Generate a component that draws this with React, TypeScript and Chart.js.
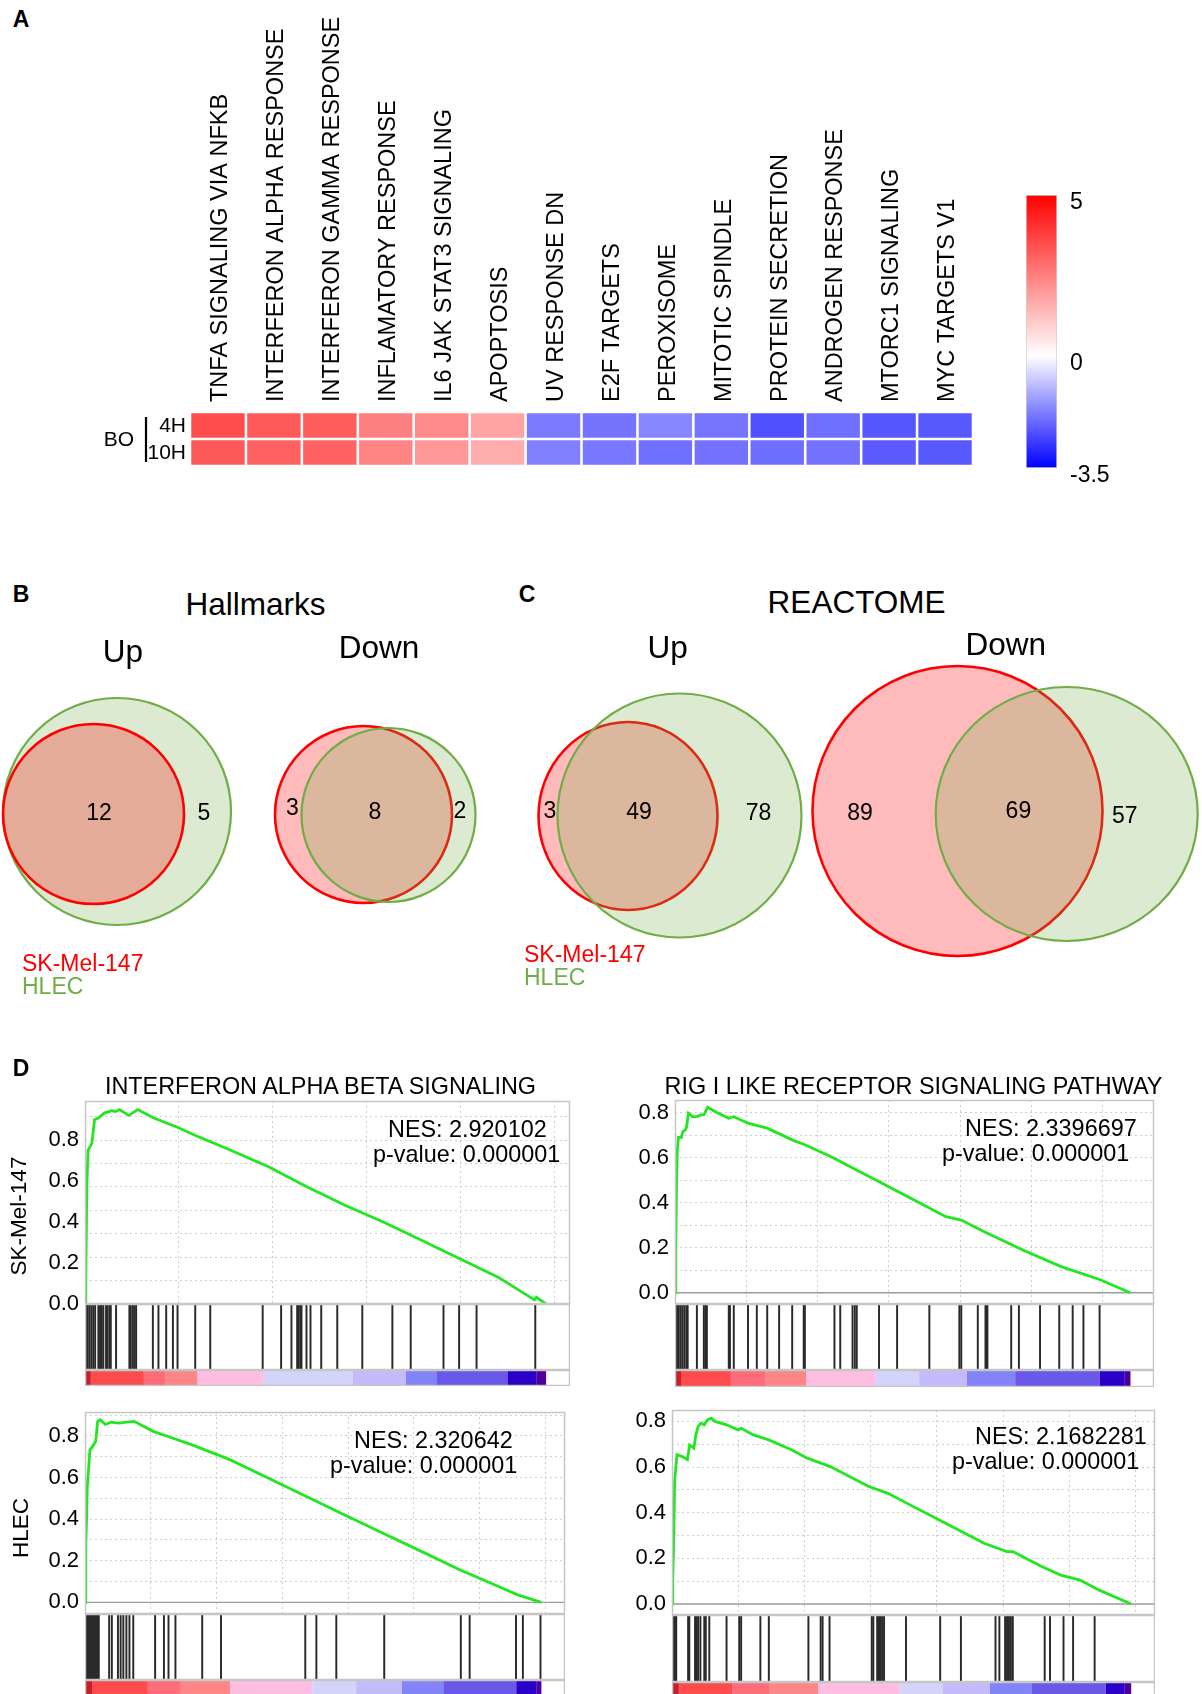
import React, { useEffect, useRef } from "react";
import { Chart, registerables } from "chart.js";

Chart.register(...registerables);

const FONT = "'Liberation Sans', Arial, Helvetica, sans-serif";

// ================= Panel A : heat map of NES =================
const hallmarkSets = [
  "TNFA SIGNALING VIA NFKB",
  "INTERFERON ALPHA RESPONSE",
  "INTERFERON GAMMA RESPONSE",
  "INFLAMATORY RESPONSE",
  "IL6 JAK STAT3 SIGNALING",
  "APOPTOSIS",
  "UV RESPONSE DN",
  "E2F TARGETS",
  "PEROXISOME",
  "MITOTIC SPINDLE",
  "PROTEIN SECRETION",
  "ANDROGEN RESPONSE",
  "MTORC1 SIGNALING",
  "MYC TARGETS V1",
];
const treatment = "BO";
const timepoints = ["4H", "10H"];
const nes4H = [3.49, 3.24, 3.2, 2.49, 2.29, 1.8, -1.81, -1.91, -1.65, -1.89, -2.4, -1.96, -2.32, -2.29];
const nes10H = [3.27, 3.12, 3.08, 2.39, 2.0, 1.6, -1.74, -1.87, -1.96, -1.94, -1.99, -1.94, -2.26, -2.29];
const colorScaleMin = -3.5;
const colorScaleMax = 5;
const colorScaleTicks = [5, 0, -3.5];

// ================= Panels B & C : Venn counts =================
const vennSetNames = ["SK-Mel-147", "HLEC"];
const vennGroups = ["Hallmarks Up", "Hallmarks Down", "REACTOME Up", "REACTOME Down"];
const skMelOnly = [0, 3, 3, 89];
const sharedSets = [12, 8, 49, 69];
const hlecOnly = [5, 2, 78, 57];

// ================= Panel D : GSEA enrichment plots =================
const gseaSets = [
  "INTERFERON ALPHA BETA SIGNALING",
  "RIG I LIKE RECEPTOR SIGNALING PATHWAY",
  "INTERFERON ALPHA BETA SIGNALING",
  "RIG I LIKE RECEPTOR SIGNALING PATHWAY",
];
const gseaCellLines = ["SK-Mel-147", "HLEC"];
const gseaNES = ["2.920102", "2.3396697", "2.320642", "2.1682281"];
const gseaP = ["0.000001", "0.000001", "0.000001", "0.000001"];

// running enrichment score: position in ranked list (%) and ES
const esRank1 = [0, 0.17, 0.41, 0.66, 1.5, 2.07, 2.9, 4.15, 5.81, 6.64, 7.47, 9.5, 11.45, 14.94, 19.9, 24.1, 31.5, 39.8, 48.1, 56.4, 64.7, 73, 81.3, 89.6, 97.5, 97.9, 100];
const esScore1 = [0, 0.114, 0.589, 0.75, 0.785, 0.9, 0.908, 0.932, 0.944, 0.94, 0.949, 0.921, 0.949, 0.908, 0.864, 0.821, 0.752, 0.67, 0.572, 0.482, 0.4, 0.311, 0.221, 0.131, 0.02, 0.033, 0];
const esRank2 = [0, 0.17, 0.34, 0.51, 0.76, 1.43, 1.69, 2.28, 2.53, 2.95, 3.8, 4.81, 5.65, 6.33, 7.17, 8.86, 11.81, 12.91, 16.03, 20.25, 25.74, 28.52, 34.18, 42.62, 51.05, 59.49, 62.87, 67.93, 76.37, 84.81, 93.25, 100];
const esScore2 = [0, 0.19, 0.486, 0.634, 0.69, 0.69, 0.716, 0.723, 0.735, 0.797, 0.782, 0.782, 0.79, 0.79, 0.824, 0.804, 0.775, 0.782, 0.753, 0.731, 0.679, 0.657, 0.605, 0.516, 0.427, 0.338, 0.323, 0.271, 0.19, 0.116, 0.059, 0];
const esRank3 = [0, 0.17, 0.34, 0.5, 1.09, 1.68, 2.35, 2.77, 3.36, 4.45, 5.71, 7.39, 9.07, 10.75, 14.95, 19.14, 23.34, 31.74, 40.13, 48.53, 56.93, 65.32, 73.72, 82.12, 90.51, 94.71, 100];
const esScore3 = [0, 0.27, 0.397, 0.558, 0.734, 0.75, 0.774, 0.87, 0.878, 0.855, 0.866, 0.862, 0.866, 0.87, 0.822, 0.79, 0.758, 0.686, 0.598, 0.509, 0.42, 0.332, 0.245, 0.157, 0.077, 0.037, 0];
const esRank4 = [0, 0.17, 0.33, 0.59, 0.84, 1.09, 2.26, 3.35, 3.85, 4.77, 5.19, 5.69, 6.28, 7.03, 7.7, 8.54, 9.37, 11.88, 14.39, 15.06, 17.74, 21.09, 26.11, 29.46, 34.48, 42.85, 47.03, 51.21, 59.58, 67.95, 72.97, 74.23, 76.32, 80.5, 84.69, 88.87, 93.05, 100];
const esScore4 = [0, 0.12, 0.237, 0.544, 0.602, 0.654, 0.646, 0.632, 0.697, 0.683, 0.741, 0.778, 0.792, 0.785, 0.807, 0.814, 0.8, 0.785, 0.763, 0.77, 0.741, 0.719, 0.675, 0.639, 0.602, 0.515, 0.485, 0.441, 0.354, 0.266, 0.23, 0.23, 0.208, 0.164, 0.127, 0.105, 0.061, 0];

// gene-set hits (position in ranked list, %)
const hits1 = [0.2, 0.6, 1.0, 1.4, 1.8, 2.2, 2.9, 3.26, 3.63, 3.98, 4.57, 4.85, 5.28, 5.59, 6.74, 9.63, 9.93, 10.37, 10.72, 11.09, 14.72, 15.93, 17.61, 19.07, 20.07, 23.91, 27.17, 38.54, 42.54, 44.78, 46.02, 46.37, 46.74, 46.96, 48.04, 48.91, 51.24, 54.72, 60.15, 66.67, 70.65, 77.76, 81.15, 84.93, 97.67];
const hits2 = [0.25, 0.42, 0.68, 0.84, 1.27, 1.69, 2.11, 2.53, 2.78, 4.81, 6.33, 6.67, 7.0, 11.81, 12.07, 12.91, 16.03, 17.97, 20.25, 22.87, 25.74, 28.27, 28.52, 35.02, 36.29, 38.99, 39.49, 39.92, 44.81, 48.78, 55.86, 62.45, 62.87, 66.5, 68.19, 68.44, 68.61, 73.84, 75.53, 80.17, 84.39, 87.34, 89.7, 93.25];
const hits3 = [0.25, 0.5, 0.76, 1.0, 1.26, 1.51, 1.76, 2.02, 2.27, 2.52, 2.77, 3.02, 5.29, 5.88, 7.22, 7.81, 8.4, 9.07, 9.74, 10.58, 15.37, 17.3, 18.3, 19.82, 25.69, 29.81, 48.28, 50.71, 55.08, 65.58, 82.37, 84.3, 94.46, 95.97, 99.83];
const hits4 = [0.17, 0.42, 0.67, 0.92, 3.51, 3.77, 5.02, 5.19, 5.36, 5.69, 6.19, 7.03, 7.36, 8.12, 11.88, 14.64, 15.06, 19.25, 21.09, 29.71, 32.38, 32.8, 34.31, 43.51, 43.85, 44.69, 44.94, 45.19, 45.44, 45.77, 46.19, 50.96, 58.41, 62.93, 70.46, 71.3, 72.55, 72.97, 73.39, 73.81, 74.23, 81.17, 82.34, 85.27, 87.36, 92.05];

// ranked-list metric colour bar: segment breaks (%)
const rankBreaks1 = [0, 1.2, 12.7, 17.4, 24.3, 38.6, 58.0, 69.6, 76.3, 91.6, 97.9, 100];
const rankBreaks2 = [0, 1.27, 12.2, 19.8, 28.7, 43.9, 53.6, 64.1, 74.7, 93.2, 98.7, 100];
const rankBreaks3 = [0, 1.5, 13.7, 20.8, 31.7, 49.8, 59.4, 69.4, 78.5, 94.5, 98.9, 100];
const rankBreaks4 = [0, 1.42, 13.1, 21.1, 31.8, 49.5, 59.0, 69.2, 78.4, 94.4, 98.5, 100];

const esRanks = [esRank1, esRank2, esRank3, esRank4];
const esScores = [esScore1, esScore2, esScore3, esScore4];
const gseaHits = [hits1, hits2, hits3, hits4];
const rankBreaks = [rankBreaks1, rankBreaks2, rankBreaks3, rankBreaks4];

// ================= styles / layout =================
const RANK_COLORS = ["#c8202a", "#ff4b4b", "#ff6c7a", "#ff8686", "#ffbde2", "#d4d4fb", "#c3bbfb", "#8383fa", "#6a58e8", "#2a00c8", "#4e0098"];
const ES_GREEN = "#22e622";
const FRAME = "#c6c6c6";
const GRID = "#cfcfcf";
const SK_LINE = "#ff0000";
const SK_FILL = "rgba(255,0,0,0.265)";
const HL_LINE = "#70ad47";
const HL_FILL = "rgba(112,173,71,0.25)";
const RANK_AXIS_MAX = 105.2;

const GSEA_GEO = [
  { left: 85, right: 570, top: 1101, esBottom: 1304, hitsBottom: 1370, cbBottom: 1386 },
  { left: 675, right: 1154, top: 1100, esBottom: 1304, hitsBottom: 1370, cbBottom: 1387 },
  { left: 85, right: 565, top: 1412, esBottom: 1614, hitsBottom: 1680, cbBottom: 1696 },
  { left: 672, right: 1155, top: 1410, esBottom: 1615, hitsBottom: 1682, cbBottom: 1698 },
];
const ES_AXES = [
  { min: 0, max: 0.991, gridMin: 0, gridMax: 0.867, xStep: 20.35 },
  { min: -0.05, max: 0.856, gridMin: -0.05, gridMax: 0.856, xStep: 15.65 },
  { min: -0.056, max: 0.915, gridMin: -0.056, gridMax: 0.915, xStep: 14.42 },
  { min: -0.048, max: 0.85, gridMin: -0.048, gridMax: 0.85, xStep: 14.42 },
];

// Venn drawing geometry (figure units) : [cx, cy, rx, ry]
const VENN_X = [0, 1202];
const VENN_Y = [650, 960];
const VENN_LAYOUT = [
  { sk: [93.5, 814, 90.5, 90], hl: [117, 811.5, 114, 113.5], skTop: true, lab: [null, [99, 813], [204, 813]] },
  { sk: [363.5, 814.5, 88.5, 88.5], hl: [388.5, 815, 87, 87], skTop: false, lab: [[292.5, 808], [375, 812], [460, 811]] },
  { sk: [628, 816, 89.5, 94], hl: [679.5, 815.5, 122, 122], skTop: false, lab: [[550, 811], [639, 812], [758.5, 813]] },
  { sk: [957.5, 811, 145, 145], hl: [1066.7, 814, 131, 127], skTop: false, lab: [[860, 813], [1018.4, 811], [1124.7, 815.7]] },
];

const BASE = {
  animation: false,
  responsive: false,
  events: [],
  plugins: { legend: { display: false }, tooltip: { enabled: false } },
};

function heatColor(v) {
  if (v >= 0) {
    const t = Math.min(v / colorScaleMax, 1);
    const g = Math.round(255 * (1 - t));
    return `rgb(255,${g},${g})`;
  }
  const t = Math.min(v / colorScaleMin, 1);
  const r = Math.round(255 * (1 - t));
  return `rgb(${r},${r},255)`;
}

const framePlugin = {
  id: "frame",
  afterDraw(chart, _args, opts) {
    const { ctx, chartArea: a } = chart;
    ctx.save();
    ctx.strokeStyle = (opts && opts.color) || FRAME;
    ctx.lineWidth = (opts && opts.width) || 1.5;
    ctx.strokeRect(a.left + 0.5, a.top + 0.5, a.right - a.left - 1, a.bottom - a.top - 1);
    ctx.restore();
  },
};

const ROW_SPANS = [[1, 2], [0, 1]];

const rowLabelPlugin = {
  id: "rowLabels",
  afterDraw(chart) {
    const { ctx, chartArea: a, scales } = chart;
    const y = scales.y;
    ctx.save();
    ctx.font = `21px ${FONT}`;
    ctx.fillStyle = "#000";
    ctx.textBaseline = "middle";
    ctx.textAlign = "right";
    timepoints.forEach((tp, i) => {
      ctx.fillText(tp, a.left - 4, y.getPixelForValue(ROW_SPANS[i][0] + 0.5) + 1);
    });
    ctx.fillText(treatment, a.left - 56, y.getPixelForValue(1) + 1);
    ctx.lineWidth = 2.2;
    ctx.strokeStyle = "#000";
    ctx.beginPath();
    ctx.moveTo(a.left - 44, a.top + 5);
    ctx.lineTo(a.left - 44, a.bottom - 4);
    ctx.stroke();
    ctx.restore();
  },
};

function heatmapConfig() {
  return {
    type: "bar",
    data: {
      labels: hallmarkSets,
      datasets: [
        {
          label: timepoints[0],
          data: nes4H.map(() => ROW_SPANS[0]),
          backgroundColor: nes4H.map(heatColor),
        },
        {
          label: timepoints[1],
          data: nes10H.map(() => ROW_SPANS[1]),
          backgroundColor: nes10H.map(heatColor),
        },
      ].map((d) => ({
        ...d,
        borderColor: "#ffffff",
        borderWidth: 1.6,
        borderSkipped: false,
        grouped: false,
        barPercentage: 1,
        categoryPercentage: 1,
      })),
    },
    options: {
      ...BASE,
      layout: { padding: { left: 90, right: 27, top: 0, bottom: 4 } },
      scales: {
        x: {
          type: "category",
          position: "top",
          offset: true,
          grid: { display: false, drawTicks: false },
          border: { display: false },
          ticks: {
            autoSkip: false,
            minRotation: 90,
            maxRotation: 90,
            padding: 10,
            labelOffset: 31,
            color: "#000",
            font: { family: FONT, size: 23.5 },
          },
          afterFit: (s) => {
            s.height = 412;
          },
        },
        y: { display: false, min: 0, max: 2 },
      },
    },
    plugins: [rowLabelPlugin],
  };
}

const KEY_PAD = 28;

function colorKeyConfig() {
  return {
    type: "bar",
    data: {
      labels: ["NES"],
      datasets: [
        {
          data: [[colorScaleMin, colorScaleMax]],
          backgroundColor: (c) => {
            const chart = c.chart;
            const y = chart.scales && chart.scales.y;
            if (!chart.chartArea || !y) return "#fff";
            const top = y.getPixelForValue(colorScaleMax);
            const bot = y.getPixelForValue(colorScaleMin);
            const g = chart.ctx.createLinearGradient(0, top, 0, bot);
            g.addColorStop(0, heatColor(colorScaleMax));
            g.addColorStop((colorScaleMax - 0) / (colorScaleMax - colorScaleMin), heatColor(0));
            g.addColorStop(1, heatColor(colorScaleMin));
            return g;
          },
          borderColor: "#d0d0d0",
          borderWidth: 1,
          borderSkipped: false,
          barPercentage: 1,
          categoryPercentage: 1,
        },
      ],
    },
    options: {
      ...BASE,
      layout: { padding: { left: 16, right: 0, top: KEY_PAD, bottom: KEY_PAD } },
      scales: {
        x: { display: false },
        y: {
          position: "right",
          min: colorScaleMin,
          max: colorScaleMax,
          grid: { display: false, drawTicks: false },
          border: { display: false },
          afterBuildTicks: (s) => {
            s.ticks = colorScaleTicks.map((v) => ({ value: v }));
          },
          ticks: {
            padding: 13,
            labelOffset: 8,
            color: "#000",
            font: { family: FONT, size: 23 },
            callback: (v) => String(v),
          },
          afterFit: (s) => {
            s.width = 74;
          },
        },
      },
    },
  };
}

const vennPlugin = {
  id: "venn",
  beforeDatasetsDraw(chart) {
    const { ctx, scales } = chart;
    const x = scales.x;
    const y = scales.y;
    const toPx = (e) => {
      const px = x.getPixelForValue(e[0]);
      const py = y.getPixelForValue(e[1]);
      return [px, py, Math.abs(x.getPixelForValue(e[0] + e[2]) - px), Math.abs(y.getPixelForValue(e[1] + e[3]) - py)];
    };
    VENN_LAYOUT.forEach((v, gi) => {
      const order = v.skTop ? ["hl", "sk"] : ["sk", "hl"];
      order.forEach((k) => {
        const [px, py, rx, ry] = toPx(v[k]);
        ctx.save();
        ctx.beginPath();
        ctx.ellipse(px, py, rx, ry, 0, 0, Math.PI * 2);
        ctx.fillStyle = k === "sk" ? SK_FILL : HL_FILL;
        ctx.fill();
        ctx.lineWidth = k === "sk" ? 2.6 : 2.2;
        ctx.strokeStyle = k === "sk" ? SK_LINE : HL_LINE;
        ctx.stroke();
        ctx.restore();
      });
      const counts = [skMelOnly[gi], sharedSets[gi], hlecOnly[gi]];
      ctx.save();
      ctx.font = `23px ${FONT}`;
      ctx.fillStyle = "#000";
      ctx.textAlign = "center";
      ctx.textBaseline = "middle";
      counts.forEach((n, j) => {
        const p = v.lab[j];
        if (!p || !n) return;
        ctx.fillText(String(n), x.getPixelForValue(p[0]), y.getPixelForValue(p[1]) + 1);
      });
      ctx.restore();
    });
  },
};

function vennConfig() {
  const pts = [];
  VENN_LAYOUT.forEach((v) => {
    pts.push({ x: v.sk[0], y: v.sk[1] }, { x: v.hl[0], y: v.hl[1] });
  });
  return {
    type: "scatter",
    data: { datasets: [{ label: vennGroups.join(","), data: pts, pointRadius: 0 }] },
    options: {
      ...BASE,
      layout: { padding: 0 },
      scales: {
        x: { type: "linear", display: false, min: VENN_X[0], max: VENN_X[1] },
        y: { type: "linear", display: false, min: VENN_Y[0], max: VENN_Y[1], reverse: true },
      },
    },
    plugins: [vennPlugin],
  };
}

const AXW = 72;
const PADV = 22;
const PADR = 4;

function esConfig(i) {
  const ax = ES_AXES[i];
  const gridVals = [];
  for (let k = -1; k <= 10; k++) {
    const v = k / 10;
    if (v > ax.gridMin + 1e-6 && v < ax.gridMax - 1e-6) gridVals.push(v);
  }
  const xGrid = [];
  for (let v = ax.xStep; v < RANK_AXIS_MAX - 0.6; v += ax.xStep) xGrid.push(v);
  return {
    type: "line",
    data: {
      datasets: [
        {
          label: gseaSets[i],
          data: esRanks[i].map((r, j) => ({ x: r, y: esScores[i][j] })),
          borderColor: ES_GREEN,
          borderWidth: 2.8,
          pointRadius: 0,
          tension: 0,
          yAxisID: "y",
          order: 0,
        },
        {
          label: "zero",
          data: [
            { x: 0, y: 0 },
            { x: RANK_AXIS_MAX, y: 0 },
          ],
          borderColor: "#9c9c9c",
          borderWidth: 1.4,
          pointRadius: 0,
          yAxisID: "y",
          order: 1,
        },
      ],
    },
    options: {
      ...BASE,
      layout: { padding: { top: PADV, bottom: PADV, left: 0, right: PADR } },
      plugins: { ...BASE.plugins, frame: { color: FRAME, width: 1.5 } },
      scales: {
        x: {
          type: "linear",
          min: 0,
          max: RANK_AXIS_MAX,
          ticks: { display: false },
          grid: { color: GRID, drawTicks: false, lineWidth: 1 },
          border: { display: false, dash: [2, 3] },
          afterBuildTicks: (s) => {
            s.ticks = xGrid.map((v) => ({ value: v }));
          },
          afterFit: (s) => {
            s.height = 0;
          },
        },
        y: {
          type: "linear",
          position: "left",
          min: ax.min,
          max: ax.max,
          grid: { display: false, drawTicks: false },
          border: { display: false },
          afterBuildTicks: (s) => {
            s.ticks = [0, 0.2, 0.4, 0.6, 0.8].map((v) => ({ value: v }));
          },
          ticks: {
            padding: 6,
            color: "#000",
            font: { family: FONT, size: 22 },
            callback: (v) => Number(v).toFixed(1),
          },
          afterFit: (s) => {
            s.width = AXW;
          },
        },
        yg: {
          type: "linear",
          position: "right",
          min: ax.gridMin,
          max: ax.gridMax,
          ticks: { display: false },
          grid: { color: GRID, drawTicks: false, lineWidth: 1 },
          border: { display: false, dash: [2, 3] },
          afterBuildTicks: (s) => {
            s.ticks = gridVals.map((v) => ({ value: v }));
          },
          afterFit: (s) => {
            s.width = 0;
          },
        },
      },
    },
    plugins: [framePlugin],
  };
}

function hitsConfig(i) {
  return {
    type: "bar",
    data: {
      datasets: [
        {
          label: "hits",
          data: gseaHits[i].map((h) => ({ x: h, y: 1 })),
          backgroundColor: "#2a2a2a",
          barThickness: 1.3,
          borderWidth: 0,
        },
      ],
    },
    options: {
      ...BASE,
      layout: { padding: 0 },
      plugins: { ...BASE.plugins, frame: { color: FRAME, width: 1.5 } },
      scales: {
        x: { type: "linear", min: 0, max: RANK_AXIS_MAX, offset: false, display: false },
        y: { type: "linear", min: 0, max: 1, display: false },
      },
    },
    plugins: [framePlugin],
  };
}

function rankBarConfig(i) {
  const b = rankBreaks[i];
  return {
    type: "bar",
    data: {
      labels: ["metric"],
      datasets: RANK_COLORS.map((c, j) => ({
        label: `seg${j}`,
        data: [[b[j], b[j + 1]]],
        backgroundColor: c,
        borderColor: c,
        borderWidth: 0.5,
        grouped: false,
        barPercentage: 1,
        categoryPercentage: 1,
      })),
    },
    options: {
      ...BASE,
      indexAxis: "y",
      layout: { padding: 0 },
      plugins: { ...BASE.plugins, frame: { color: FRAME, width: 1.5 } },
      scales: {
        x: { type: "linear", min: 0, max: RANK_AXIS_MAX, display: false },
        y: { display: false },
      },
    },
    plugins: [framePlugin],
  };
}

function ChartCanvas({ left, top, width, height, make }) {
  const ref = useRef(null);
  useEffect(() => {
    const chart = new Chart(ref.current, make());
    return () => chart.destroy();
  }, []);
  return (
    <canvas
      ref={ref}
      width={Math.round(width)}
      height={Math.round(height)}
      style={{ position: "absolute", left, top, width: Math.round(width), height: Math.round(height) }}
    />
  );
}

function Txt({ t, x, y, size, color = "#000", bold = false, anchor = "center", rotate = false }) {
  const tx = anchor === "center" ? "-50%" : anchor === "right" ? "-100%" : "0";
  return (
    <div
      style={{
        position: "absolute",
        left: x,
        top: y,
        transform: `translate(${tx}, -50%)${rotate ? " rotate(-90deg)" : ""}`,
        fontFamily: FONT,
        fontSize: size,
        fontWeight: bold ? 700 : 400,
        color,
        whiteSpace: "nowrap",
        lineHeight: 1,
      }}
    >
      {t}
    </div>
  );
}

const NES_POS = [
  { nx: 388, ny: 1130, px: 373, py: 1155 },
  { nx: 965, ny: 1129, px: 942, py: 1154 },
  { nx: 354, ny: 1441, px: 330, py: 1466 },
  { nx: 975, ny: 1437, px: 952, py: 1462 },
];
const TITLE_POS = [
  { x: 320.5, y: 1087 },
  { x: 913.5, y: 1087 },
];

export default function App() {
  return (
    <div
      style={{
        position: "absolute",
        left: 0,
        top: 0,
        width: 1202,
        height: 1694,
        overflow: "hidden",
        background: "#fff",
      }}
    >
      {/* Panel A */}
      <ChartCanvas left={100} top={0} width={900} height={470} make={heatmapConfig} />
      <ChartCanvas left={1010} top={195 - KEY_PAD} width={121} height={468 - 195 + 2 * KEY_PAD} make={colorKeyConfig} />

      {/* Panels B & C */}
      <ChartCanvas left={0} top={VENN_Y[0]} width={1202} height={VENN_Y[1] - VENN_Y[0]} make={vennConfig} />

      {/* Panel D */}
      {GSEA_GEO.map((g, i) => (
        <React.Fragment key={i}>
          <ChartCanvas
            left={g.left - AXW}
            top={g.top - PADV}
            width={AXW + (g.right - g.left) + PADR}
            height={g.esBottom - g.top + 2 * PADV}
            make={() => esConfig(i)}
          />
          <ChartCanvas
            left={g.left}
            top={g.esBottom}
            width={g.right - g.left}
            height={g.hitsBottom - g.esBottom}
            make={() => hitsConfig(i)}
          />
          <ChartCanvas
            left={g.left}
            top={g.hitsBottom}
            width={g.right - g.left}
            height={g.cbBottom - g.hitsBottom}
            make={() => rankBarConfig(i)}
          />
        </React.Fragment>
      ))}

      {/* Text */}
      <Txt t="A" x={21} y={18.5} size={23} bold />
      <Txt t="B" x={21} y={594} size={23} bold />
      <Txt t="C" x={527} y={594} size={23} bold />
      <Txt t="D" x={21} y={1067.5} size={23} bold />

      <Txt t="Hallmarks" x={255.5} y={605} size={31.5} />
      <Txt t="Up" x={123} y={651.5} size={31.5} />
      <Txt t="Down" x={379} y={648} size={31.5} />
      <Txt t="REACTOME" x={856.6} y={603} size={31.5} />
      <Txt t="Up" x={667.6} y={648.3} size={31.5} />
      <Txt t="Down" x={1005.7} y={645} size={31.5} />

      <Txt t={vennSetNames[0]} x={22} y={963.3} size={23} color={SK_LINE} anchor="left" />
      <Txt t={vennSetNames[1]} x={22} y={985.7} size={23} color={HL_LINE} anchor="left" />
      <Txt t={vennSetNames[0]} x={524} y={954} size={23} color={SK_LINE} anchor="left" />
      <Txt t={vennSetNames[1]} x={524} y={976.7} size={23} color={HL_LINE} anchor="left" />

      {TITLE_POS.map((p, i) => (
        <Txt key={"t" + i} t={gseaSets[i]} x={p.x} y={p.y} size={23.4} />
      ))}
      <Txt t={gseaCellLines[0]} x={19} y={1216} size={22.5} rotate />
      <Txt t={gseaCellLines[1]} x={21} y={1528} size={22.5} rotate />
      {NES_POS.map((p, i) => (
        <React.Fragment key={"n" + i}>
          <Txt t={`NES: ${gseaNES[i]}`} x={p.nx} y={p.ny} size={23.4} anchor="left" />
          <Txt t={`p-value: ${gseaP[i]}`} x={p.px} y={p.py} size={23.4} anchor="left" />
        </React.Fragment>
      ))}
    </div>
  );
}
